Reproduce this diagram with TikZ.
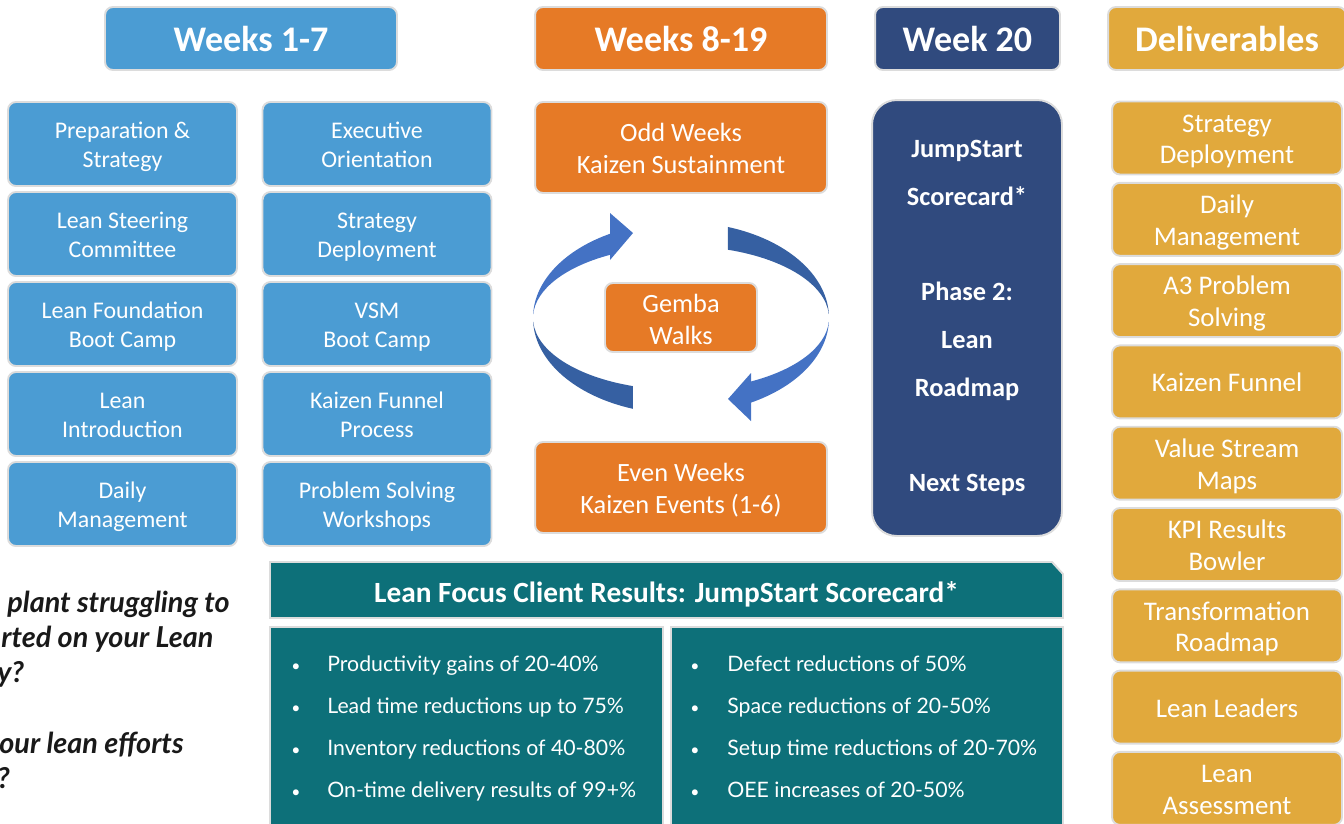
\documentclass[tikz,border=0pt]{standalone}
\usepackage{fontspec}
\setmainfont{Carlito}
\newfontfamily\latofont{Lato}
\usetikzlibrary{calc}

\definecolor{wkblue}{HTML}{4B9CD3}
\definecolor{wkorange}{HTML}{E67A26}
\definecolor{wknavy}{HTML}{304A7E}
\definecolor{wkgold}{HTML}{E1A93C}
\definecolor{resteal}{HTML}{0D7079}
\definecolor{boxgray}{HTML}{DCDCDC}
\definecolor{arrlight}{HTML}{4472C4}
\definecolor{arrdark}{HTML}{3660A2}

\tikzset{
  card/.style={draw=boxgray, line width=1.1pt, rounded corners=4.5pt, text=white, align=center, inner sep=0pt},
  head/.style={card, minimum height=1.26cm, font=\fontsize{20.5}{24}\selectfont\bfseries},
  task/.style={card, fill=wkblue, minimum width=4.58cm, minimum height=1.68cm, text height=28.9pt, text depth=2.4pt, font=\fontsize{13.6}{16.4}\selectfont},
  phase/.style={card, fill=wkorange, minimum width=5.84cm, minimum height=1.82cm, text height=31.5pt, text depth=2.3pt, font=\fontsize{15}{18}\selectfont},
  deliv/.style={card, fill=wkgold, minimum width=4.6cm, minimum height=1.46cm, text depth=2.3pt, font=\fontsize{15.3}{18}\selectfont},
  panel/.style={draw=boxgray, line width=1.1pt, fill=resteal, minimum height=4.06cm, inner sep=0pt},
  bull/.style={anchor=base west, text=white, inner sep=0pt, font=\latofont\fontsize{12.1}{14}\selectfont},
  dot/.style={anchor=base west, text=white, inner sep=0pt, font=\latofont\fontsize{9}{10}\selectfont},
  ask/.style={anchor=base west, inner sep=0pt, text=black!90, font=\latofont\bfseries\itshape\fontsize{16.4}{19}\selectfont},
}

% one half of a circular arrow: band between two ellipses (centre y, from, to)
\newcommand\lensarc[4]{%
  \fill[#1] (681,#2) ++(#3:148 and 96) arc[start angle=#3, end angle=#4, x radius=148, y radius=96]
    -- ($(681,#2)+(#4:148 and 72)$) arc[start angle=#4, end angle=#3, x radius=148, y radius=72] -- cycle;}

\begin{document}
\begin{tikzpicture}[x=0.02cm, y=-0.02cm]
  \useasboundingbox (0,0) rectangle (1344,823);
  \clip (0,0) rectangle (1344,823);

  % column heads
  \node[head, fill=wkblue, minimum width=5.84cm] (hw1) at (251,38.5) {Weeks 1-7};
  \node[head, fill=wkorange, minimum width=5.84cm] (hw8) at (681,38.5) {Weeks 8-19};
  \node[head, fill=wknavy, minimum width=3.7cm] (hw20) at (967.5,38.5) {Week 20};
  \node[head, fill=wkgold, minimum width=4.76cm] (hdel) at (1227,38.5) {Deliverables};

  % weeks 1-7
  \foreach \txt [count=\i] in {{Preparation \&\\Strategy}, {Lean Steering\\Committee}, {Lean Foundation\\Boot Camp}, {Lean\\Introduction}, {Daily\\Management}}
    \node[task] (ta\i) at (122.5,54+90*\i) {\txt};
  \foreach \txt [count=\i] in {{Executive\\Orientation}, {Strategy\\Deployment}, {VSM\\Boot Camp}, {Kaizen Funnel\\Process}, {Problem Solving\\Workshops}}
    \node[task] (tb\i) at (377,54+90*\i) {\txt};

  % weeks 8-19
  \node[phase] (odd) at (681,147.5) {Odd Weeks\\Kaizen Sustainment};
  \node[phase] (even) at (681,487.5) {Even Weeks\\Kaizen Events (1-6)};
  \node[phase, minimum width=3.04cm, minimum height=1.38cm, text height=32.6pt] (gemba) at (681,317.5) {Gemba\\Walks};

  \lensarc{arrlight}{318}{183}{242}
  \fill[arrlight] (610,213) -- (633,233) -- (610,260) -- cycle;
  \lensarc{arrdark}{318}{177}{109}
  \lensarc{arrdark}{318}{288.5}{357}
  \lensarc{arrlight}{318}{3}{62}
  \fill[arrlight] (751,373) -- (728,399) -- (751,421) -- cycle;

  % week 20
  \node[card, fill=wknavy, minimum width=3.8cm, minimum height=8.72cm, rounded corners=14pt,
        font=\fontsize{15}{27.2}\selectfont\bfseries] (w20) at (967,318)
        {JumpStart\\Scorecard*\\[27.2pt]Phase 2:\\Lean\\Roadmap\\[27.2pt]Next Steps};

  % deliverables
  \foreach \txt/\hh [count=\i] in {{Strategy\\Deployment}/31.7pt, {Daily\\Management}/31.7pt, {A3 Problem\\Solving}/31.7pt, {Kaizen Funnel}/13.7pt, {Value Stream\\Maps}/31.7pt, {KPI Results\\Bowler}/31.7pt, {Transformation\\Roadmap}/31.7pt, {Lean Leaders}/13.7pt, {Lean\\Assessment}/31.7pt}
    \node[deliv, text height=\hh] (dl\i) at (1227,56.7+81.3*\i) {\txt};

  % results
  \draw[fill=resteal, draw=boxgray, line width=1.1pt] (270,562) -- (1052,562) -- (1063,574) -- (1063,618) -- (270,618) -- cycle;
  \node[text=white, font=\bfseries\fontsize{16.7}{20}\selectfont] (res) at (666.5,594) {Lean Focus Client Results: JumpStart Scorecard*};
  \node[panel, minimum width=7.86cm] (pl) at (466.5,728.5) {};
  \node[panel, minimum width=7.84cm] (pr) at (867,728.5) {};
  \foreach \txt [count=\i] in {Productivity gains of 20-40\%, Lead time reductions up to 75\%, Inventory reductions of 40-80\%, On-time delivery results of 99+\%}{
    \node[dot] (ld\i) at (291,629+42*\i) {•};
    \node[bull] (l\i) at (327,629+42*\i) {\txt};
  }
  \foreach \txt [count=\i] in {Defect reductions of 50\%, Space reductions of 20-50\%, Setup time reductions of 20-70\%, OEE increases of 20-50\%}{
    \node[dot] (rd\i) at (690,629+42*\i) {•};
    \node[bull] (r\i) at (727,629+42*\i) {\txt};
  }

  % questions
  \node[ask] (q1) at (7,612) {plant struggling to};
  \node[ask] (q2) at (1,647) {rted on your Lean};
  \node[ask] (q3) at (-3,682) {y?};
  \node[ask] (q4) at (-1,753) {our lean efforts};
  \node[ask] (q5) at (-3,788) {?};
\end{tikzpicture}
\end{document}
